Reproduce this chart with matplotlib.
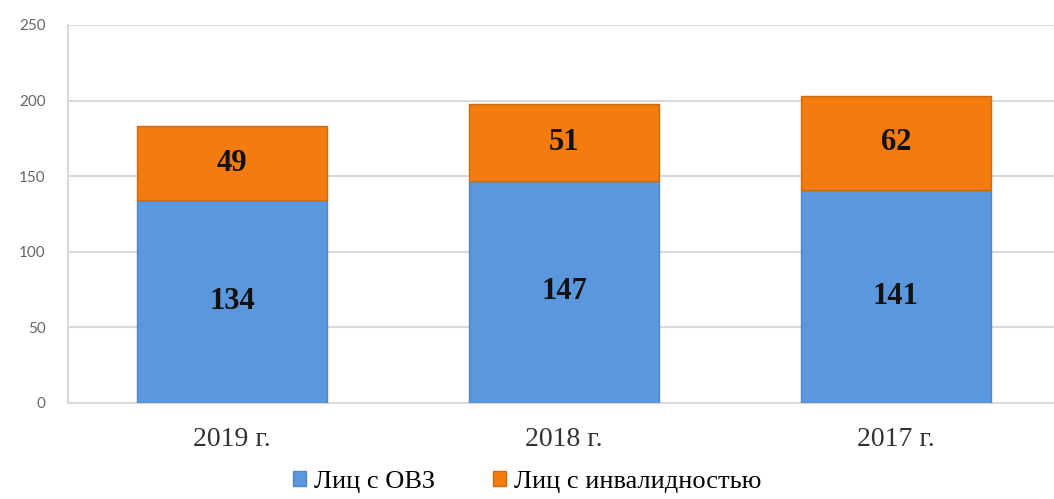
import numpy as np
import matplotlib.pyplot as plt

# Data
years = ['2019 г.', '2018 г.', '2017 г.']
ovz = [134, 147, 141]
invalid = [49, 51, 62]
series_names = ['Лиц с ОВЗ', 'Лиц с инвалидностью']
y_ticks = [0, 50, 100, 150, 200, 250]

blue = '#5b97dc'
orange = '#f47b10'

fig = plt.figure(figsize=(10.54, 4.99), dpi=100)
ax = fig.add_axes([0.0645, 0.1924, 0.9355, 0.7575])

x = np.arange(len(years))
bar_w = 0.57

b1 = ax.bar(x, ovz, width=bar_w, color=blue, edgecolor='#5485c4', linewidth=1.0,
            label=series_names[0], zorder=3)
b2 = ax.bar(x, invalid, width=bar_w, bottom=ovz, color=orange, edgecolor='#d06a0e',
            linewidth=1.0, label=series_names[1], zorder=3)

# Value labels in the middle of each segment
for xi, v1, v2 in zip(x, ovz, invalid):
    ax.text(xi, v1 / 2, str(v1), ha='center', va='center', fontsize=22,
            fontweight='bold', family='Liberation Serif', color='#111111', zorder=4)
    ax.text(xi, v1 + v2 / 2, str(v2), ha='center', va='center', fontsize=22,
            fontweight='bold', family='Liberation Serif', color='#111111', zorder=4)

# Axes styling
ax.set_xlim(-0.494, 2.476)
ax.set_ylim(0, 250)
ax.set_yticks(y_ticks)
ax.set_xticks(x)
ax.set_xticklabels(years, family='Liberation Serif', fontsize=20, color='#333333')
for lbl in ax.get_yticklabels():
    lbl.set_family('Lato')
    lbl.set_fontsize(11)
    lbl.set_color('#666666')

ax.grid(axis='y', color='#d9d9d9', linewidth=1.5, zorder=0)
ax.tick_params(axis='both', length=0)
ax.tick_params(axis='y', pad=16)
ax.tick_params(axis='x', pad=17)
for side in ['top', 'right']:
    ax.spines[side].set_visible(False)
ax.spines['left'].set_color('#d9d9d9')
ax.spines['left'].set_linewidth(1.5)
ax.spines['bottom'].set_color('#d9d9d9')
ax.spines['bottom'].set_linewidth(1.5)

fig.legend(handles=[b1, b2], labels=series_names, loc='lower center',
           bbox_to_anchor=(0.5, -0.035), ncol=2, frameon=False,
           prop={'family': 'Liberation Serif', 'size': 19},
           handlelength=0.5, handleheight=0.5, handletextpad=0.3, columnspacing=2.2)

fig.savefig('out.png', dpi=100)
